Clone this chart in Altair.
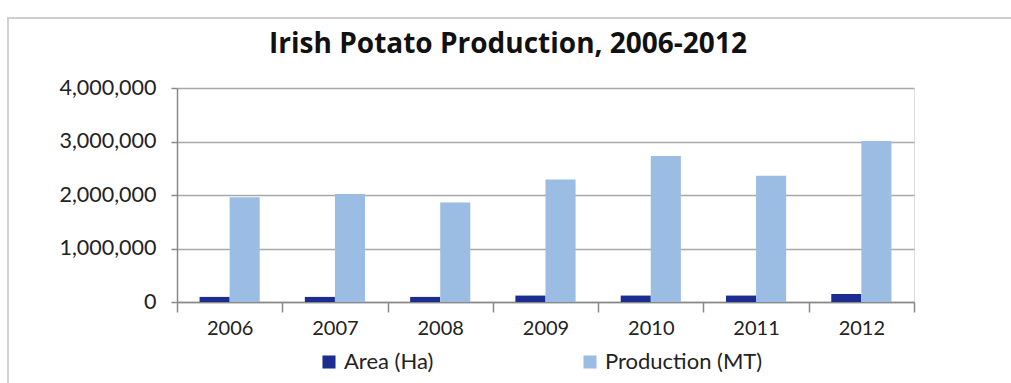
import altair as alt
import pandas as pd

years = ["2006", "2007", "2008", "2009", "2010", "2011", "2012"]
area_ha = [95000, 95000, 95000, 120000, 120000, 120000, 150000]
production_mt = [1960000, 2020000, 1860000, 2290000, 2730000, 2360000, 3010000]
series_names = ["Area (Ha)", "Production (MT)"]
series_colors = ["#1B2D8E", "#9BBCE3"]
title_text = "Irish Potato Production, 2006-2012"

rows = []
for y, a, p in zip(years, area_ha, production_mt):
    rows.append({"year": y, "series": series_names[0], "value": a})
    rows.append({"year": y, "series": series_names[1], "value": p})
df = pd.DataFrame(rows)

FONT = "Lato"
W, H = 737, 214

frame = alt.Chart(pd.DataFrame({"a": [0]})).mark_rect(
    fillOpacity=0, stroke="#D0D0D0", strokeWidth=2
).encode(
    x=alt.value(-169), x2=alt.value(900), y=alt.value(-70), y2=alt.value(400)
)

title = alt.Chart(pd.DataFrame({"t": [title_text]})).mark_text(
    font="Open Sans", fontSize=28, fontWeight="bold", color="#111",
    align="center", baseline="middle"
).encode(text="t:N", x=alt.value(508 - 177), y=alt.value(-43))

bars = alt.Chart(df).mark_bar().encode(
    x=alt.X("year:N", sort=years, title=None,
            scale=alt.Scale(paddingInner=0, paddingOuter=0),
            axis=alt.Axis(labelAngle=0, tickBand="extent", labelFontSize=20,
                          labelFont=FONT, labelColor="#222", labelPadding=6,
                          tickSize=10, tickColor="#888", domainColor="#888",
                          domainWidth=1.5, tickWidth=1.5)),
    xOffset=alt.XOffset("series:N", sort=series_names,
                        scale=alt.Scale(paddingInner=0, paddingOuter=0.75)),
    y=alt.Y("value:Q", title=None,
            scale=alt.Scale(domain=[0, 4000000], nice=False),
            axis=alt.Axis(values=[0, 1000000, 2000000, 3000000, 4000000],
                          format=",.0f", labelFontSize=21.5, labelFont=FONT,
                          labelColor="#222", labelPadding=15,
                          tickSize=6, tickColor="#888", domainColor="#888",
                          domainWidth=1.5, tickWidth=1.5,
                          grid=True, gridColor="#A8A8A8", gridWidth=1.5)),
    color=alt.Color("series:N", sort=series_names,
                    scale=alt.Scale(domain=series_names, range=series_colors),
                    legend=alt.Legend(title=None, orient="none", legendX=141,
                                      legendY=263, direction="horizontal",
                                      columns=2, columnPadding=145,
                                      symbolType="square", symbolSize=170,
                                      symbolStrokeWidth=0, symbolOffset=0,
                                      labelFontSize=22, labelFont=FONT,
                                      labelColor="#222", labelOffset=4,
                                      labelLimit=300)),
)

chart = alt.layer(frame, bars, title).properties(
    width=W, height=H,
    autosize=alt.AutoSizeParams(type="none"),
    padding={"left": 177, "top": 88, "right": 97, "bottom": 81},
).configure_view(stroke=None).configure(background="white")

chart.save("out.html", embed_options={"renderer": "svg", "actions": False})
